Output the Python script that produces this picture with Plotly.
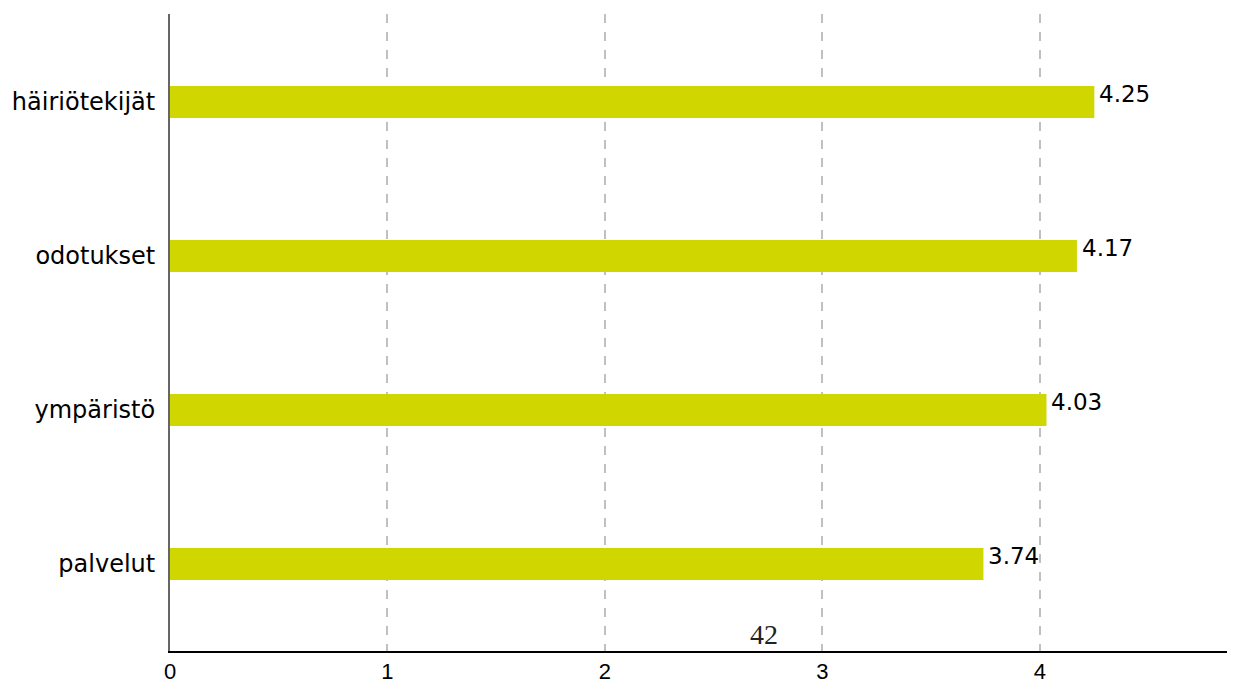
import plotly.graph_objects as go

categories = ["palvelut", "ympäristö", "odotukset", "häiriötekijät"]
values = [3.74, 4.03, 4.17, 4.25]
value_labels = ["3.74", "4.03", "4.17", "4.25"]
x_ticks = [0, 1, 2, 3, 4]
page_note = "42"

fig = go.Figure()
fig.add_trace(go.Bar(
    y=categories, x=values, orientation="h",
    marker=dict(color="#cfd600", line=dict(width=0)),
    width=0.208,
))

for cat, val, lab in zip(categories, values, value_labels):
    fig.add_annotation(x=val, y=cat, text=lab, showarrow=False,
                       xanchor="left", yanchor="middle", xshift=3, yshift=8,
                       font=dict(family="DejaVu Sans", size=23, color="#000000"))

fig.add_annotation(x=2.73, y=-0.46, text=page_note, showarrow=False,
                   font=dict(family="Liberation Serif", size=28, color="#222222"),
                   xref="x", yref="y")

fig.update_layout(
    width=1219, height=676,
    margin=dict(l=162, r=0, t=6, b=33),
    plot_bgcolor="white", paper_bgcolor="white",
    showlegend=False,
    xaxis=dict(range=[0, 4.86], tickvals=x_ticks, ticktext=[str(t) for t in x_ticks],
               showgrid=True, gridcolor="#c0c0c0", griddash="dash", gridwidth=2,
               zeroline=False, showline=True, linecolor="#000000", linewidth=2,
               ticks="", ticklabelstandoff=0, automargin=False,
               tickfont=dict(family="Liberation Sans", size=22, color="#000000")),
    yaxis=dict(range=[-0.565, 3.571], showgrid=False, zeroline=False,
               showline=True, linecolor="#666666", linewidth=2, ticks="",
               ticklabelstandoff=8, automargin=False,
               tickfont=dict(family="DejaVu Sans", size=24, color="#000000")),
)

fig.write_html("out.html")
